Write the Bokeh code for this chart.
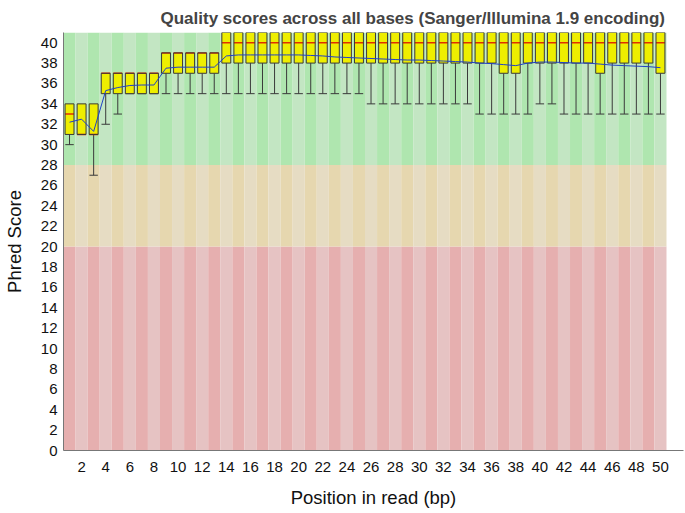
from bokeh.plotting import figure
from bokeh.models import FixedTicker, Range1d
from bokeh.embed import file_html
from bokeh.resources import INLINE

# ---- data ----
positions = list(range(1, 51))
box_low = ([31, 31, 31, 35, 35, 35, 35, 35, 37, 37, 37, 37, 37] +
           [38] * 23 + [37, 37] + [38] * 6 + [37] + [38] * 4 + [37])
box_high = [34, 34, 34, 37, 37, 37, 37, 37, 39, 39, 39, 39, 39] + [41] * 37
medians = [33, 31, 31, 37, 37, 37, 37, 37, 39, 39, 39, 39, 39] + [40] * 37
means = [32.2, 32.5, 31.3, 35.3, 35.6, 35.8, 35.85, 35.85, 37.5, 37.6,
         37.6, 37.6, 37.6, 38.7, 38.8, 38.8, 38.8, 38.8, 38.8, 38.8,
         38.75, 38.7, 38.6, 38.55, 38.5, 38.45, 38.4, 38.35, 38.3, 38.3,
         38.25, 38.2, 38.15, 38.1, 38.0, 37.95, 37.85, 37.75, 38.0, 38.1,
         38.1, 38.05, 38.0, 38.0, 37.9, 37.8, 37.75, 37.7, 37.65, 37.55]
whisker_low = ([30, 31, 27, 32, 33, 35, 35, 35, 35, 35, 35, 35, 35] +
               [35] * 12 + [34] * 9 + [33] * 5 + [34] * 2 + [33] * 9)
whisker_high = list(box_high)

band_bottoms = [0, 20, 28]
band_tops = [20, 28, 41]
x_ticks = list(range(2, 51, 2))
y_ticks = list(range(0, 41, 2))

title = "Quality scores across all bases (Sanger/Illumina 1.9 encoding)"
x_label = "Position in read (bp)"
y_label = "Phred Score"

band_colors = [("#e6afaf", "#e6c3c3"), ("#e6d7af", "#e6dcc3"), ("#afe6af", "#c3e6c3")]

FONT = "Liberation Sans"

p = figure(width=685, height=513, output_backend="svg", toolbar_location=None,
           x_range=Range1d(0.5, 51.91), y_range=Range1d(0, 41),
           min_border_left=63, min_border_right=2, min_border_top=32,
           min_border_bottom=63, title=title)
p.outline_line_color = None
p.grid.visible = False
p.background_fill_color = "white"

p.title.text_font = FONT
p.title.text_font_size = "17px"
p.title.text_font_style = "bold"
p.title.text_line_height = 1.0
p.title.align = "left"
p.title.vertical_align = "top"
p.title.offset = 97
p.title.standoff = 5

# background stripes
ql, qr, qb, qt, qc = [], [], [], [], []
for bi in range(len(band_bottoms)):
    for i, pos in enumerate(positions):
        ql.append(pos - 0.5)
        qr.append(pos + 0.5)
        qb.append(band_bottoms[bi])
        qt.append(band_tops[bi])
        qc.append(band_colors[bi][0] if i % 2 == 0 else band_colors[bi][1])
p.quad(left=ql, right=qr, bottom=qb, top=qt, fill_color=qc, line_color=None)

# whiskers
wc = "#3a3a3a"
p.segment(x0=positions, y0=whisker_low, x1=positions, y1=box_low, line_color=wc, line_width=1)
p.segment(x0=positions, y0=box_high, x1=positions, y1=whisker_high, line_color=wc, line_width=1)
capw = 0.35
p.segment(x0=[x - capw for x in positions], y0=whisker_low,
          x1=[x + capw for x in positions], y1=whisker_low, line_color=wc, line_width=1)

# boxes (fill), medians, then box outlines
bw = 0.37
bl = [x - bw for x in positions]
br = [x + bw for x in positions]
p.quad(left=bl, right=br, bottom=box_low, top=box_high, fill_color="#eeee00", line_color=None)
p.segment(x0=bl, y0=medians, x1=br, y1=medians, line_color="#e03000", line_width=1.5)
p.quad(left=bl, right=br, bottom=box_low, top=box_high, fill_color=None,
       line_color="#3a3a3a", line_width=1)

# mean line
p.line(positions, means, line_color="#2040c8", line_width=1)

# axes
for ax in (p.xaxis, p.yaxis):
    ax.major_tick_line_color = None
    ax.minor_tick_line_color = None
    ax.major_tick_out = 0
    ax.major_label_text_font = FONT
    ax.major_label_text_font_size = "15px"
    ax.major_label_text_color = "#111111"
    ax.axis_label_text_font = FONT
    ax.axis_label_text_font_size = "18.5px"
    ax.axis_label_text_font_style = "normal"
    ax.axis_label_text_color = "#111111"
    ax.axis_line_color = "#777777"

p.xaxis.ticker = FixedTicker(ticks=x_ticks)
p.yaxis.ticker = FixedTicker(ticks=y_ticks)
p.xaxis.axis_label = x_label
p.yaxis.axis_label = y_label
p.xaxis.major_label_standoff = 11
p.xaxis.axis_label_standoff = 12
p.yaxis.major_label_standoff = 6
p.yaxis.axis_label_standoff = 13

open("out.html", "w").write(file_html(p, INLINE))
